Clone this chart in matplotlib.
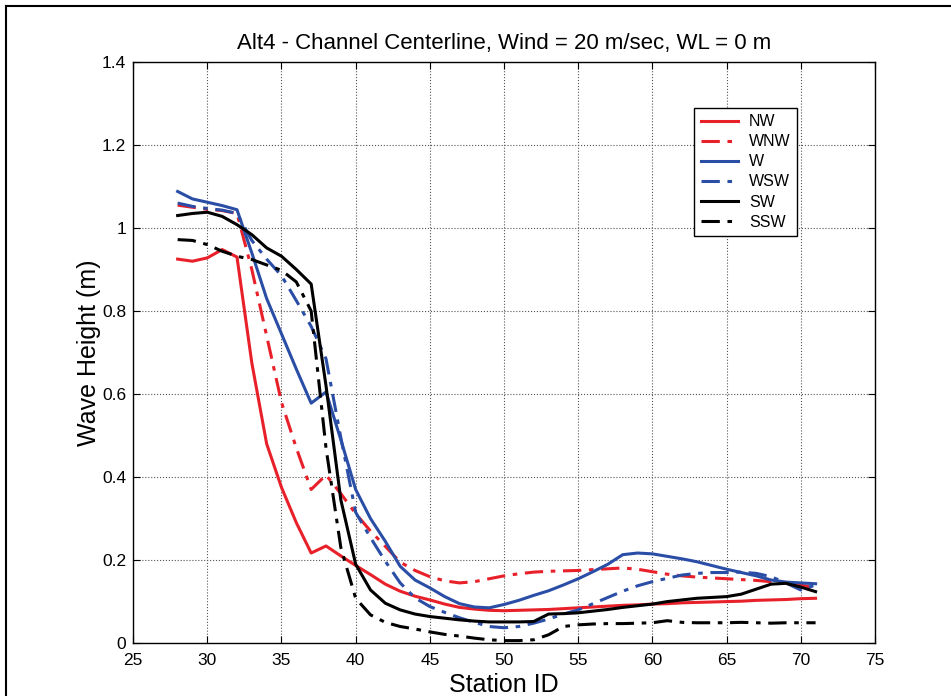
import matplotlib
matplotlib.use("Agg")
import matplotlib.pyplot as plt
from matplotlib.lines import Line2D

plt.rcParams['font.family'] = ['Liberation Sans', 'DejaVu Sans']

station = list(range(28, 72))

nw = [0.925, 0.920, 0.928, 0.948, 0.930, 0.675, 0.480, 0.375, 0.290, 0.217,
      0.234, 0.210, 0.187, 0.165, 0.142, 0.125, 0.113, 0.104, 0.094, 0.086,
      0.082, 0.079, 0.078, 0.079, 0.080, 0.081, 0.083, 0.085, 0.087, 0.089,
      0.091, 0.092, 0.094, 0.095, 0.097, 0.098, 0.099, 0.100, 0.101, 0.103,
      0.104, 0.105, 0.107, 0.108]
wnw = [1.055, 1.050, 1.045, 1.042, 1.035, 0.900, 0.740, 0.580, 0.470, 0.370,
       0.405, 0.360, 0.312, 0.270, 0.233, 0.195, 0.175, 0.160, 0.150, 0.145,
       0.148, 0.155, 0.162, 0.167, 0.171, 0.173, 0.174, 0.175, 0.177, 0.179,
       0.181, 0.178, 0.172, 0.166, 0.162, 0.159, 0.157, 0.155, 0.153, 0.151,
       0.148, 0.145, 0.140, 0.133]
w = [1.088, 1.070, 1.062, 1.054, 1.044, 0.940, 0.830, 0.745, 0.660, 0.578,
     0.605, 0.490, 0.370, 0.300, 0.245, 0.185, 0.152, 0.133, 0.112, 0.095,
     0.087, 0.085, 0.093, 0.103, 0.115, 0.126, 0.140, 0.155, 0.172, 0.190,
     0.213, 0.217, 0.215, 0.209, 0.203, 0.196, 0.187, 0.178, 0.170, 0.162,
     0.152, 0.147, 0.145, 0.143]
wsw = [1.060, 1.052, 1.047, 1.043, 1.035, 0.970, 0.925, 0.885, 0.825, 0.763,
       0.685, 0.495, 0.315, 0.254, 0.197, 0.145, 0.109, 0.088, 0.074, 0.061,
       0.050, 0.040, 0.037, 0.040, 0.048, 0.058, 0.070, 0.080, 0.095, 0.110,
       0.125, 0.138, 0.148, 0.156, 0.164, 0.168, 0.170, 0.170, 0.171, 0.168,
       0.160, 0.145, 0.128, 0.140]
sw = [1.030, 1.035, 1.038, 1.028, 1.008, 0.984, 0.952, 0.932, 0.900, 0.865,
      0.620, 0.345, 0.190, 0.128, 0.096, 0.080, 0.070, 0.064, 0.060, 0.056,
      0.053, 0.051, 0.051, 0.051, 0.052, 0.070, 0.071, 0.073, 0.077, 0.081,
      0.086, 0.090, 0.094, 0.100, 0.104, 0.108, 0.110, 0.112, 0.118, 0.130,
      0.142, 0.144, 0.135, 0.124]
ssw = [0.972, 0.970, 0.960, 0.944, 0.932, 0.924, 0.911, 0.898, 0.870, 0.800,
       0.470, 0.230, 0.108, 0.068, 0.050, 0.040, 0.034, 0.027, 0.021, 0.017,
       0.012, 0.008, 0.006, 0.006, 0.008, 0.020, 0.040, 0.044, 0.046, 0.047,
       0.047, 0.048, 0.049, 0.054, 0.050, 0.049, 0.049, 0.049, 0.050, 0.049,
       0.048, 0.049, 0.049, 0.049]

red = '#e8202a'
blue = '#2a4ea6'
dashdot = (0, (6, 2.5, 1.5, 2.5))

fig = plt.figure(figsize=(9.51, 6.96), dpi=100)
ax = fig.add_axes([0.140, 0.076, 0.780, 0.835])

ax.plot(station, nw, color=red, lw=2.2, label='NW')
ax.plot(station, wnw, color=red, lw=2.2, ls=dashdot, label='WNW')
ax.plot(station, w, color=blue, lw=2.2, label='W')
ax.plot(station, wsw, color=blue, lw=2.2, ls=dashdot, label='WSW')
ax.plot(station, sw, color='black', lw=2.2, label='SW')
ax.plot(station, ssw, color='black', lw=2.2, ls=dashdot, label='SSW')

ax.set_xlim(25, 75)
ax.set_ylim(0, 1.4)
ax.set_xticks(range(25, 76, 5))
ax.set_yticks([0, 0.2, 0.4, 0.6, 0.8, 1.0, 1.2, 1.4])
ax.set_yticklabels(['0', '0.2', '0.4', '0.6', '0.8', '1', '1.2', '1.4'])
ax.tick_params(direction='in', top=True, right=True, labelsize=12.5, length=5)
ax.tick_params(axis='x', pad=7)
ax.tick_params(axis='y', pad=5)
ax.grid(True, ls=':', color='#555555', lw=0.8)
for s in ax.spines.values():
    s.set_linewidth(1)

ax.set_xlabel('Station ID', fontsize=18, labelpad=4)
ax.set_ylabel('Wave Height (m)', fontsize=18, labelpad=1)
ax.set_title('Alt4 - Channel Centerline, Wind = 20 m/sec, WL = 0 m', fontsize=16, pad=9)

leg = ax.legend(loc='upper left', bbox_to_anchor=(0.746, 0.935), fontsize=11.5,
                fancybox=False, framealpha=1, edgecolor='black',
                handlelength=2.3, handletextpad=0.7, labelspacing=0.32,
                borderpad=0.4)
leg.get_frame().set_linewidth(1)

# frame lines along the left and top edge of the picture
fig.add_artist(Line2D([0.006, 0.006], [0, 0.992], color='black', lw=1.5))
fig.add_artist(Line2D([0.006, 1.0], [0.992, 0.992], color='black', lw=1.5))

plt.savefig('out.png', dpi=100)
